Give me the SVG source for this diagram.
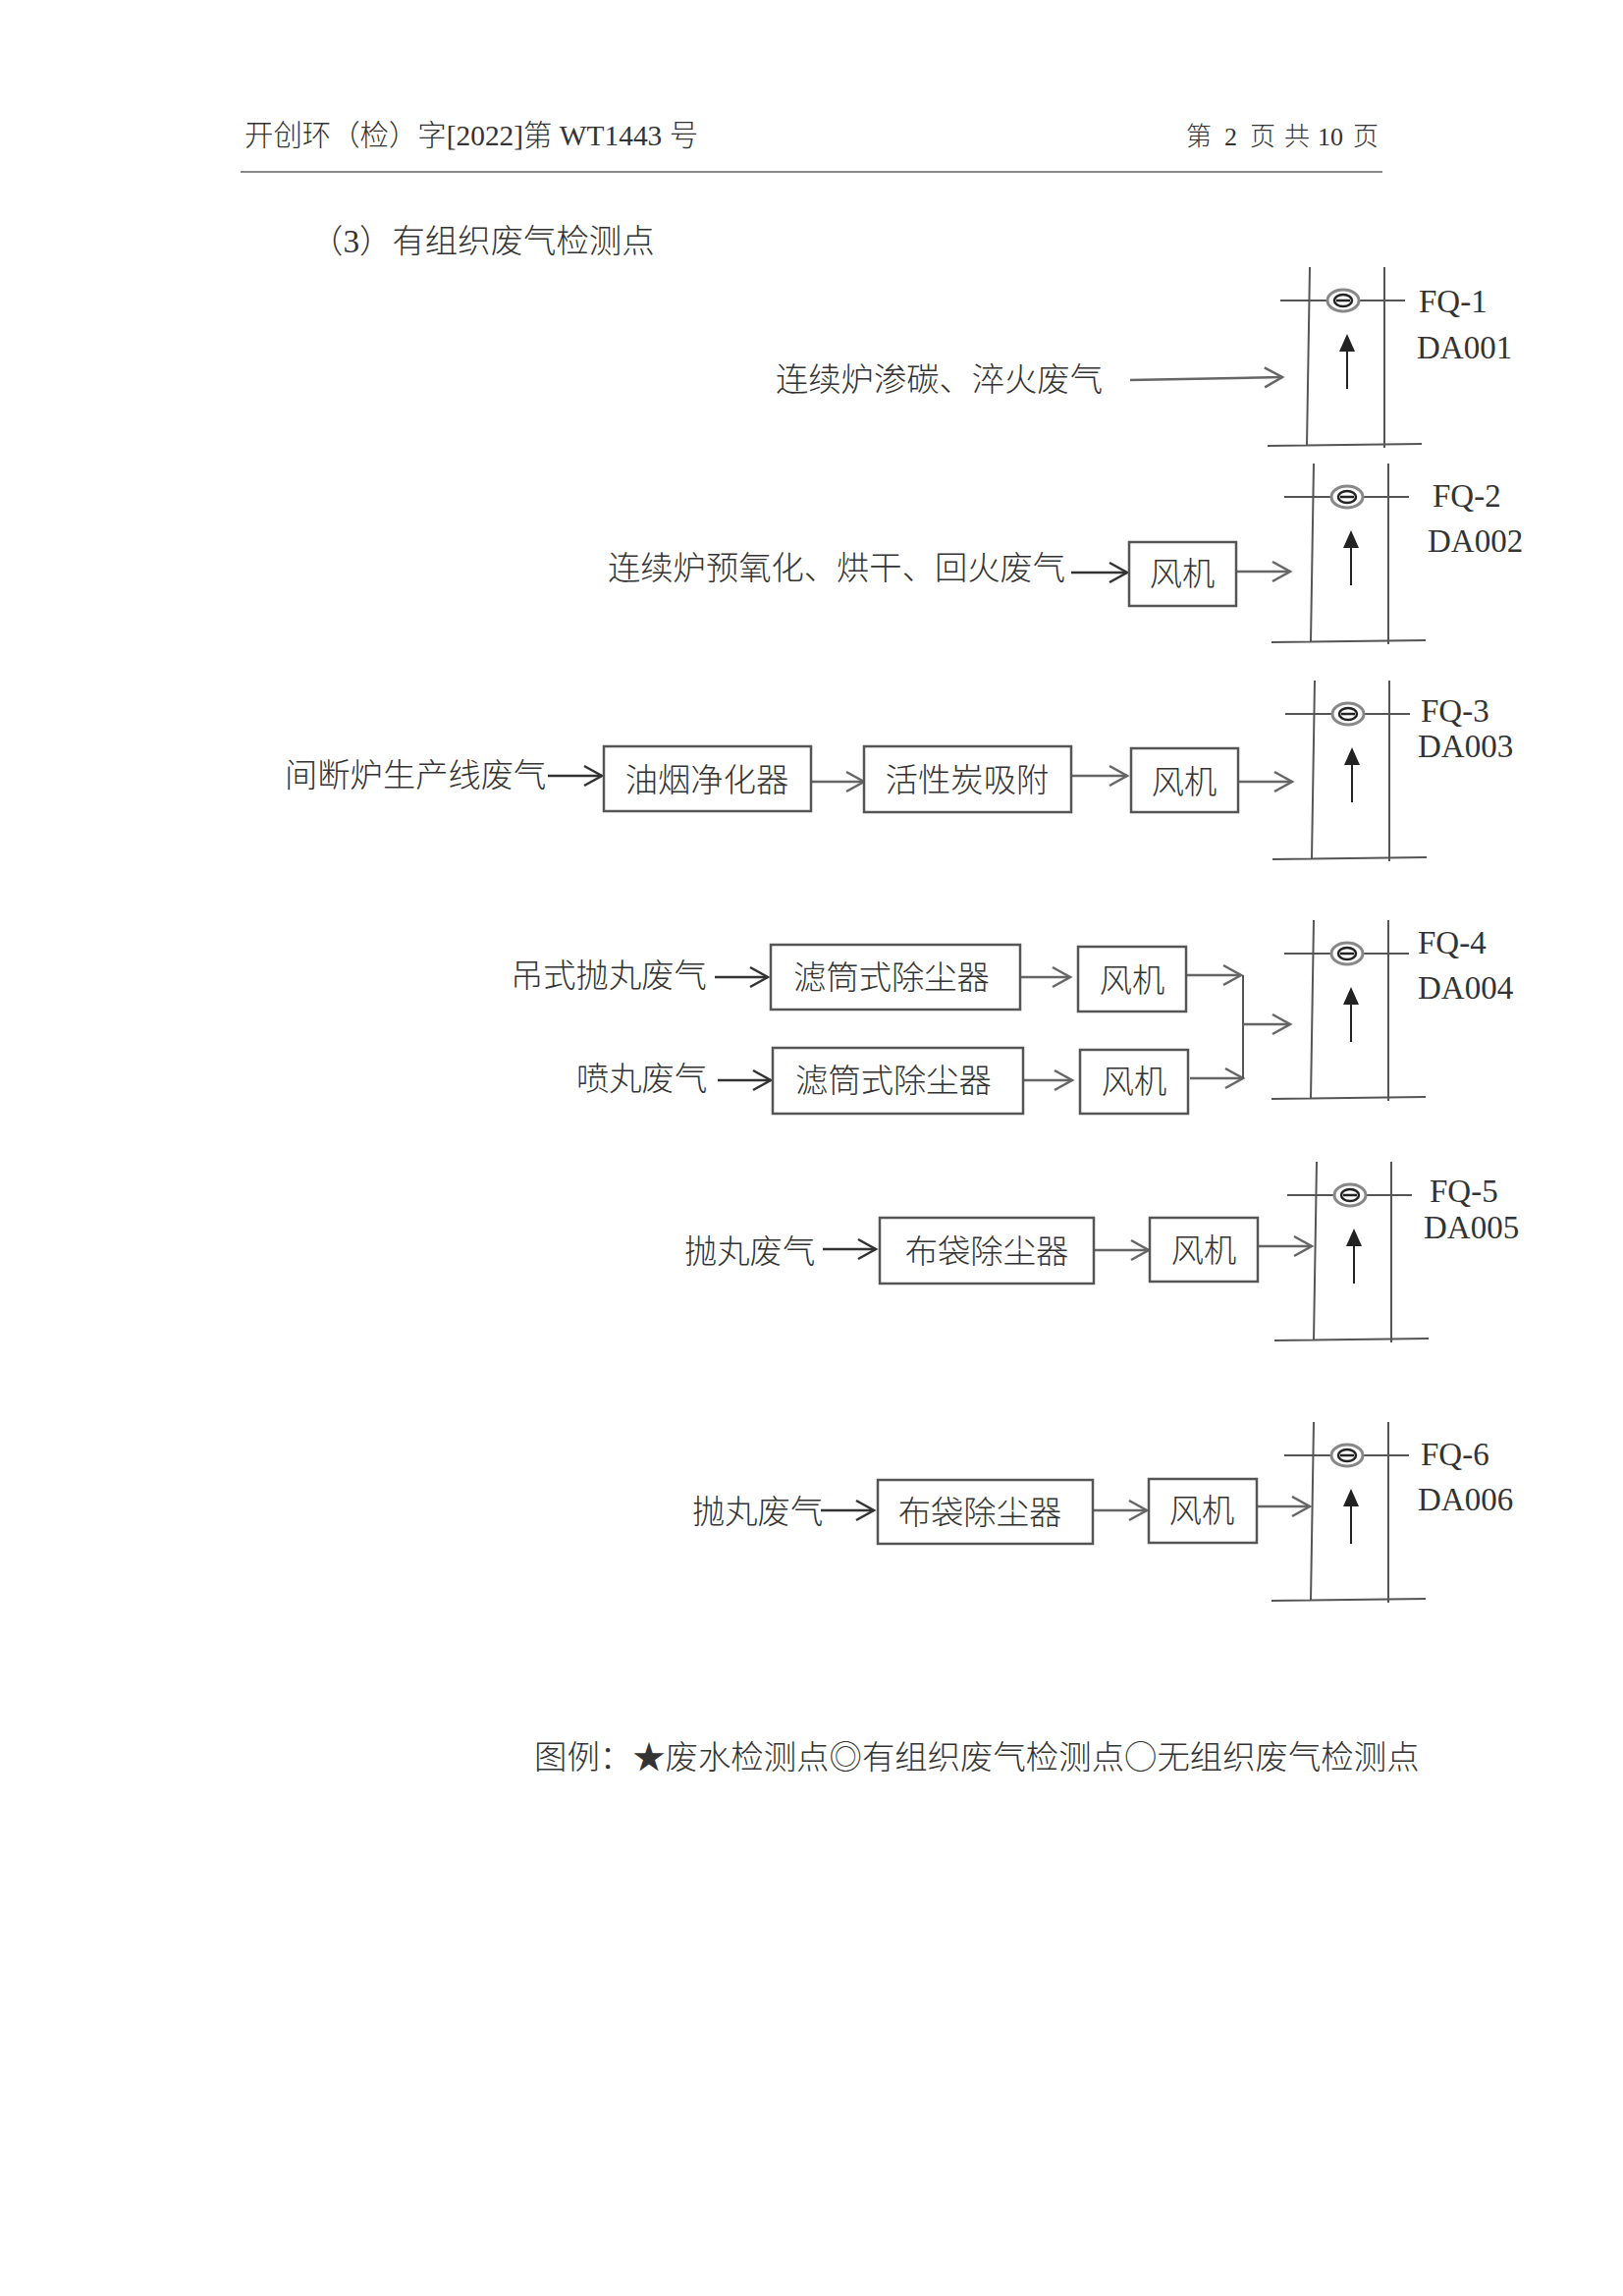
<svg xmlns="http://www.w3.org/2000/svg" width="1653" height="2338" viewBox="0 0 1653 2338">
<defs>
<marker id="o" markerWidth="22" markerHeight="24" refX="19" refY="12" orient="auto" markerUnits="userSpaceOnUse"><path d="M1 2L19 12L1 22" fill="none" stroke="#666" stroke-width="2.5"/></marker>
<marker id="k" markerWidth="22" markerHeight="24" refX="19" refY="12" orient="auto" markerUnits="userSpaceOnUse"><path d="M1 2L19 12L1 22" fill="none" stroke="#333" stroke-width="2.5"/></marker>
<g id="stack"><path class="t" d="M-64 0H63M-34-34L-37 148M42-34V150M-77 148L80 146"/><ellipse cx="0" cy="0" rx="16" ry="11" fill="#fff" stroke="#888" stroke-width="3"/><ellipse cx="0" cy="0" rx="9" ry="6" fill="#fff" stroke="#222" stroke-width="2.5"/><path d="M-7 0H7" stroke="#222" stroke-width="2.5"/><path d="M4 90V50" stroke="#222" stroke-width="2"/><path d="M4 34L-4 52H12Z" fill="#222"/></g>
</defs>
<style>
text{font-family:"Liberation Serif","Noto Sans CJK SC",serif;fill:#333}
.c{font-size:33.3px;font-family:"Noto Sans CJK SC","Liberation Sans",sans-serif;font-weight:300;fill:#333}
.s{font-family:"Liberation Serif","Noto Sans CJK SC",serif;font-weight:300;fill:#333}
.l{font-size:33px;fill:#333}
.m{text-anchor:middle}
.t{fill:none;stroke:#555;stroke-width:2}
.b{fill:#fff;stroke:#555;stroke-width:2.5}
.a{fill:none;stroke:#666;stroke-width:2.5;marker-end:url(#o)}
.d{fill:none;stroke:#333;stroke-width:2.5;marker-end:url(#k)}
</style>
<rect width="1653" height="2338" fill="#fff"/>
<g id="header">
<text x="249" y="148" class="s" style="font-size:29.4px">开创环（检）字[2022]第 WT1443 号</text>
<text y="148" class="s" style="font-size:26px"><tspan x="1208">第</tspan><tspan x="1247">2</tspan><tspan x="1273">页</tspan><tspan x="1308">共</tspan><tspan x="1342">10</tspan><tspan x="1378">页</tspan></text>
<path d="M245 175H1408" stroke="#888" stroke-width="2"/>
</g>
<text id="title" x="316" y="257" class="s" style="font-size:33.4px">（3）有组织废气检测点</text>
<g id="connectors">
<path class="a" d="M1151 387L1306 384"/>
<path class="d" d="M1091 583H1148"/>
<path class="a" d="M1260 582H1314"/>
<path class="d" d="M558 790H613"/>
<path class="a" d="M826 796H880"/>
<path class="a" d="M1092 790H1148"/>
<path class="a" d="M1262 796H1316"/>
<path class="d" d="M728 995H782"/>
<path class="a" d="M1036 995H1090"/>
<path class="a" d="M1207 993H1264"/>
<path class="d" d="M731 1100H785"/>
<path class="a" d="M1038 1100H1092"/>
<path class="a" d="M1212 1098H1266"/>
<path class="t" d="M1266 993V1098"/>
<path class="a" d="M1266 1043H1314"/>
<path class="d" d="M838 1272H892"/>
<path class="a" d="M1115 1273H1170"/>
<path class="a" d="M1282 1269H1336"/>
<path class="d" d="M836 1538H890"/>
<path class="a" d="M1113 1538H1168"/>
<path class="a" d="M1281 1534H1334"/>
</g>
<g id="n1"><use href="#stack" x="1368" y="306"/><text x="1445" y="318" class="l">FQ-1</text><text x="1443" y="365" class="l">DA001</text><text x="790" y="398" class="c">连续炉渗碳、淬火废气</text></g>
<g id="n2"><use href="#stack" x="1372" y="506"/><text x="1459" y="516" class="l">FQ-2</text><text x="1454" y="562" class="l">DA002</text><text x="619" y="590" class="c">连续炉预氧化、烘干、回火废气</text><rect class="b" x="1150" y="552" width="109" height="65"/><text x="1204" y="596" class="c m">风机</text></g>
<g id="n3"><use href="#stack" x="1373" y="727"/><text x="1447" y="735" class="l">FQ-3</text><text x="1444" y="771" class="l">DA003</text><text x="290" y="801" class="c">间断炉生产线废气</text><rect class="b" x="615" y="760" width="211" height="66"/><text x="720" y="806" class="c m">油烟净化器</text><rect class="b" x="880" y="760" width="211" height="67"/><text x="985" y="806" class="c m">活性炭吸附</text><rect class="b" x="1152" y="762" width="109" height="65"/><text x="1206" y="808" class="c m">风机</text></g>
<g id="n4"><use href="#stack" x="1372" y="971"/><text x="1444" y="971" class="l">FQ-4</text><text x="1444" y="1017" class="l">DA004</text><text x="520" y="1005" class="c">吊式抛丸废气</text><rect class="b" x="785" y="962" width="254" height="66"/><text x="908" y="1007" class="c m">滤筒式除尘器</text><rect class="b" x="1098" y="964" width="110" height="66"/><text x="1153" y="1010" class="c m">风机</text><text x="587" y="1110" class="c">喷丸废气</text><rect class="b" x="787" y="1067" width="255" height="67"/><text x="910" y="1112" class="c m">滤筒式除尘器</text><rect class="b" x="1100" y="1069" width="110" height="65"/><text x="1155" y="1113" class="c m">风机</text></g>
<g id="n5"><use href="#stack" x="1375" y="1217"/><text x="1456" y="1224" class="l">FQ-5</text><text x="1450" y="1261" class="l">DA005</text><text x="697" y="1286" class="c">抛丸废气</text><rect class="b" x="896" y="1240" width="218" height="67"/><text x="1005" y="1286" class="c m">布袋除尘器</text><rect class="b" x="1171" y="1240" width="110" height="65"/><text x="1226" y="1285" class="c m">风机</text></g>
<g id="n6"><use href="#stack" x="1372" y="1482"/><text x="1447" y="1492" class="l">FQ-6</text><text x="1444" y="1538" class="l">DA006</text><text x="705" y="1551" class="c">抛丸废气</text><rect class="b" x="894" y="1507" width="219" height="65"/><text x="998" y="1552" class="c m">布袋除尘器</text><rect class="b" x="1170" y="1506" width="110" height="65"/><text x="1224" y="1550" class="c m">风机</text></g>
<text id="legend" x="544" y="1801" class="c" style="font-size:33.4px">图例：★废水检测点◎有组织废气检测点○无组织废气检测点</text>
</svg>
